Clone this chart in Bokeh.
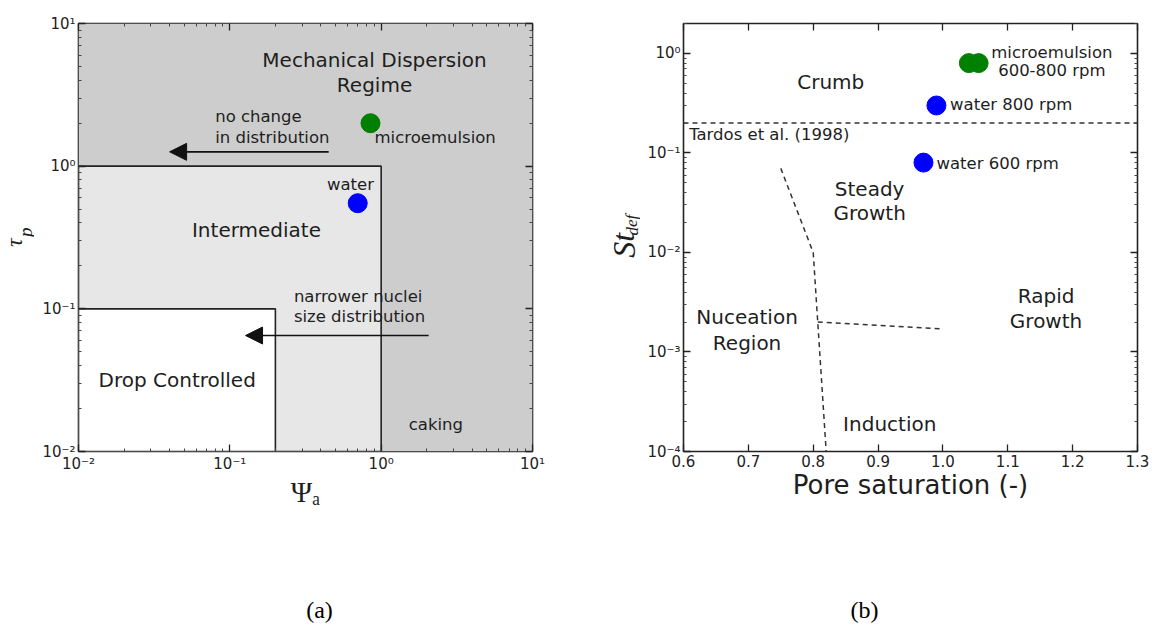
from bokeh.plotting import figure
from bokeh.models import (Range1d, LogAxis, LinearAxis, FixedTicker, Label, Arrow,
                          NormalHead, CustomJSTickFormatter, NumeralTickFormatter,
                          ColumnDataSource)
from bokeh.layouts import row, column
from bokeh.embed import file_html
from bokeh.resources import INLINE

SANS = "DejaVu Sans"
SERIF = "Liberation Serif"
INK = "#1e1e1e"

# ---------------- panel (a) data ----------------
psi_ticks = [0.01, 0.1, 1.0, 10.0]
psi_tick_labels = ["10⁻²", "10⁻¹", "10⁰", "10¹"]
tau_ticks = [0.01, 0.1, 1.0, 10.0]
tau_tick_labels = ["10⁻²", "10⁻¹", "10⁰", "10¹"]

region_names = ["Mechanical Dispersion Regime", "Intermediate", "Drop Controlled"]
region_psi_lo = [0.01, 0.01, 0.01]
region_psi_hi = [10.0, 1.0, 0.2]
region_tau_lo = [0.01, 0.01, 0.01]
region_tau_hi = [10.0, 1.0, 0.1]
region_colors = ["#cdcdcd", "#e7e7e7", "#ffffff"]
region_edge_alpha = [0.0, 1.0, 1.0]

sample_names_a = ["microemulsion", "water"]
sample_psi = [0.85, 0.70]
sample_tau = [2.0, 0.55]
sample_colors_a = ["#008000", "#0000ff"]

arrow_psi_start = [0.45, 2.06]
arrow_psi_end = [0.04, 0.127]
arrow_tau = [1.26, 0.065]

# ---------------- panel (b) data ----------------
sat_ticks = [0.6, 0.7, 0.8, 0.9, 1.0, 1.1, 1.2, 1.3]
st_ticks = [0.0001, 0.001, 0.01, 0.1, 1.0]
st_tick_labels = ["10⁻⁴", "10⁻³", "10⁻²", "10⁻¹", "10⁰"]

sample_names_b = ["microemulsion 600 rpm", "microemulsion 800 rpm", "water 800 rpm", "water 600 rpm"]
sample_sat = [1.04, 1.055, 0.99, 0.97]
sample_st = [0.8, 0.8, 0.3, 0.08]
sample_colors_b = ["#008000", "#008000", "#0000ff", "#0000ff"]

tardos_sat = [0.6, 1.3]
tardos_st = [0.2, 0.2]
nucleation_sat = [0.75, 0.80, 0.82]
nucleation_st = [0.07, 0.01, 0.0001]
rapid_sat = [0.807, 1.0]
rapid_st = [0.002, 0.0017]

ROW_H = 521
TOTAL_H = 629
YA_W = 34          # strip holding the tau_p title
PA_W = 44 + 454 + 64
YB_W = 44          # strip holding the St_def title
PB_W = 43 + 454 + 13


def minor_log(lo_exp, hi_exp):
    return [m * 10.0 ** e for e in range(lo_exp, hi_exp) for m in range(2, 10)]


def style_axis(ax, show_labels=True):
    ax.axis_line_color = None
    ax.major_tick_in = 7
    ax.major_tick_out = 0
    ax.minor_tick_in = 3
    ax.minor_tick_out = 0
    ax.major_tick_line_color = "#222222"
    ax.major_tick_line_width = 1.3
    ax.minor_tick_line_color = "#444444"
    ax.minor_tick_line_width = 1
    ax.major_label_text_font = SANS
    ax.major_label_text_font_size = "15px"
    ax.major_label_text_color = "#222222"
    ax.major_label_standoff = 3
    if not show_labels:
        ax.formatter = CustomJSTickFormatter(code="return ''")
        ax.major_label_standoff = 0


def lbl(p, x, y, text, size="16.5px", font=SANS, align="left", baseline="middle",
        style="normal", angle=0.0, color=INK):
    p.add_layout(Label(x=x, y=y, text=text,
                       text_font=font, text_font_size=size, text_align=align,
                       text_baseline=baseline, text_font_style=style, angle=angle,
                       text_color=color))


def vlbl(p, x, y, text, size, style="italic"):
    """Vertical (bottom-to-top) text anchored at its top-left corner."""
    lbl(p, x, y, text, size=size, font=SERIF, align="left", baseline="top",
        style=style, angle=1.5708)


def text_strip(x0, x1, y0, y1):
    """A blank figure whose data units equal page pixels (y downwards)."""
    f = figure(width=x1 - x0, height=y1 - y0, x_range=Range1d(x0, x1),
               y_range=Range1d(y1, y0), x_axis_type=None, y_axis_type=None,
               min_border=0, min_border_left=0, min_border_right=0,
               min_border_top=0, min_border_bottom=0,
               output_backend="svg", toolbar_location=None)
    f.grid.visible = False
    f.outline_line_color = None
    return f


# ======================= panel (a) =======================
pa = figure(x_axis_type="log", y_axis_type="log",
            x_range=Range1d(0.01, 10), y_range=Range1d(0.01, 10),
            frame_width=454, frame_height=428,
            min_border_left=44, min_border_right=64, min_border_top=23, min_border_bottom=70,
            output_backend="svg", toolbar_location=None)
pa.grid.visible = False
pa.outline_line_color = "#222222"
pa.outline_line_width = 1.6

src_regions = ColumnDataSource(dict(left=region_psi_lo, right=region_psi_hi,
                                    bottom=region_tau_lo, top=region_tau_hi,
                                    color=region_colors, ealpha=region_edge_alpha,
                                    name=region_names))
pa.quad(left="left", right="right", bottom="bottom", top="top", source=src_regions,
        fill_color="color", line_color="#222222", line_alpha="ealpha", line_width=1.6)

for xs, xe, yy in zip(arrow_psi_start, arrow_psi_end, arrow_tau):
    pa.add_layout(Arrow(x_start=xs, y_start=yy, x_end=xe, y_end=yy,
                        line_color="#111111", line_width=1.6,
                        end=NormalHead(size=17, fill_color="#111111", line_color="#111111")))

src_a = ColumnDataSource(dict(x=sample_psi, y=sample_tau, c=sample_colors_a, n=sample_names_a))
pa.scatter("x", "y", source=src_a, size=19, fill_color="c", line_color="c")

for ax in pa.xaxis:
    ax.ticker = FixedTicker(ticks=psi_ticks, minor_ticks=minor_log(-2, 1))
    ax.major_label_overrides = dict(zip(psi_ticks, psi_tick_labels))
    style_axis(ax)
    ax.axis_label = "Ψₐ"
    ax.axis_label_text_font = SERIF
    ax.axis_label_text_font_style = "normal"
    ax.axis_label_text_font_size = "29px"
    ax.axis_label_text_color = INK
    ax.axis_label_standoff = 0
for ax in pa.yaxis:
    ax.ticker = FixedTicker(ticks=tau_ticks, minor_ticks=minor_log(-2, 1))
    ax.major_label_overrides = dict(zip(tau_ticks, tau_tick_labels))
    style_axis(ax)
top_a = LogAxis(ticker=FixedTicker(ticks=psi_ticks, minor_ticks=minor_log(-2, 1)))
style_axis(top_a, False)
pa.add_layout(top_a, "above")
right_a = LogAxis(ticker=FixedTicker(ticks=tau_ticks, minor_ticks=minor_log(-2, 1)))
style_axis(right_a, False)
pa.add_layout(right_a, "right")

lbl(pa, 0.904, 5.53, "Mechanical Dispersion", size="20px", align="center")
lbl(pa, 0.904, 3.7, "Regime", size="20px", align="center")
lbl(pa, 0.080, 2.22, "no change")
lbl(pa, 0.080, 1.6, "in distribution")
lbl(pa, 0.904, 1.6, sample_names_a[0])
lbl(pa, 0.627, 0.74, sample_names_a[1], align="center")
lbl(pa, 0.15, 0.359, "Intermediate", size="20px", align="center")
lbl(pa, 0.265, 0.1225, "narrower nuclei")
lbl(pa, 0.265, 0.0879, "size distribution")
lbl(pa, 0.0449, 0.0317, "Drop Controlled", size="20px", align="center")
lbl(pa, 2.3, 0.0155, "caking", align="center")

# ======================= panel (b) =======================
pb = figure(y_axis_type="log",
            x_range=Range1d(0.6, 1.3), y_range=Range1d(0.0001, 2.0),
            frame_width=454, frame_height=428,
            min_border_left=43, min_border_right=13, min_border_top=23, min_border_bottom=70,
            output_backend="svg", toolbar_location=None)
pb.grid.visible = False
pb.outline_line_color = "#222222"
pb.outline_line_width = 1.6

pb.line(tardos_sat, tardos_st, line_color="#333333", line_width=1.5, line_dash="5 4")
pb.line(nucleation_sat, nucleation_st, line_color="#333333", line_width=1.5, line_dash="5 4")
pb.line(rapid_sat, rapid_st, line_color="#333333", line_width=1.5, line_dash="5 4")

src_b = ColumnDataSource(dict(x=sample_sat, y=sample_st, c=sample_colors_b, n=sample_names_b))
pb.scatter("x", "y", source=src_b, size=19, fill_color="c", line_color="c")

for ax in pb.xaxis:
    ax.ticker = FixedTicker(ticks=sat_ticks)
    ax.formatter = NumeralTickFormatter(format="0.0")
    style_axis(ax)
    ax.axis_label = "Pore saturation (-)"
    ax.axis_label_text_font = SANS
    ax.axis_label_text_font_style = "normal"
    ax.axis_label_text_font_size = "26px"
    ax.axis_label_text_color = INK
    ax.axis_label_standoff = 0
for ax in pb.yaxis:
    ax.ticker = FixedTicker(ticks=st_ticks, minor_ticks=minor_log(-4, 1))
    ax.major_label_overrides = dict(zip(st_ticks, st_tick_labels))
    style_axis(ax)
top_b = LinearAxis(ticker=FixedTicker(ticks=sat_ticks))
style_axis(top_b, False)
pb.add_layout(top_b, "above")
right_b = LogAxis(ticker=FixedTicker(ticks=st_ticks, minor_ticks=minor_log(-4, 1)))
style_axis(right_b, False)
pb.add_layout(right_b, "right")

lbl(pb, 1.168, 1.02, "microemulsion", align="center")
lbl(pb, 1.168, 0.68, "600-800 rpm", align="center")
lbl(pb, 0.827, 0.52, "Crumb", size="20px", align="center")
lbl(pb, 1.011, 0.31, "water 800 rpm")
lbl(pb, 0.6087, 0.154, "Tardos et al. (1998)")
lbl(pb, 0.990, 0.078, "water 600 rpm")
lbl(pb, 0.887, 0.043, "Steady", size="20px", align="center")
lbl(pb, 0.887, 0.0247, "Growth", size="20px", align="center")
lbl(pb, 1.159, 0.00363, "Rapid", size="20px", align="center")
lbl(pb, 1.159, 0.00207, "Growth", size="20px", align="center")
lbl(pb, 0.698, 0.00223, "Nuceation", size="20px", align="center")
lbl(pb, 0.698, 0.00123, "Region", size="20px", align="center")
lbl(pb, 0.918, 0.000188, "Induction", size="20px", align="center")

# ======================= free text strips (page pixel units) =======================
ya = text_strip(0, YA_W, 0, ROW_H)
vlbl(ya, 0, 272, "τ", "24px")
vlbl(ya, 14, 260, "p", "19px")

xb0 = YA_W + PA_W
yb = text_strip(xb0, xb0 + YB_W, 0, ROW_H)
vlbl(yb, 605, 285, "St", "32px")
vlbl(yb, 622, 258, "def", "17px")

total_w = YA_W + PA_W + YB_W + PB_W
bottom = text_strip(0, total_w, ROW_H, TOTAL_H)
lbl(bottom, 319, 609, "(a)", size="24px", font=SERIF, align="center", color="black")
lbl(bottom, 864, 609, "(b)", size="24px", font=SERIF, align="center", color="black")

layout = column(row(ya, pa, yb, pb), bottom)
open("out.html", "w").write(file_html(layout, INLINE))
